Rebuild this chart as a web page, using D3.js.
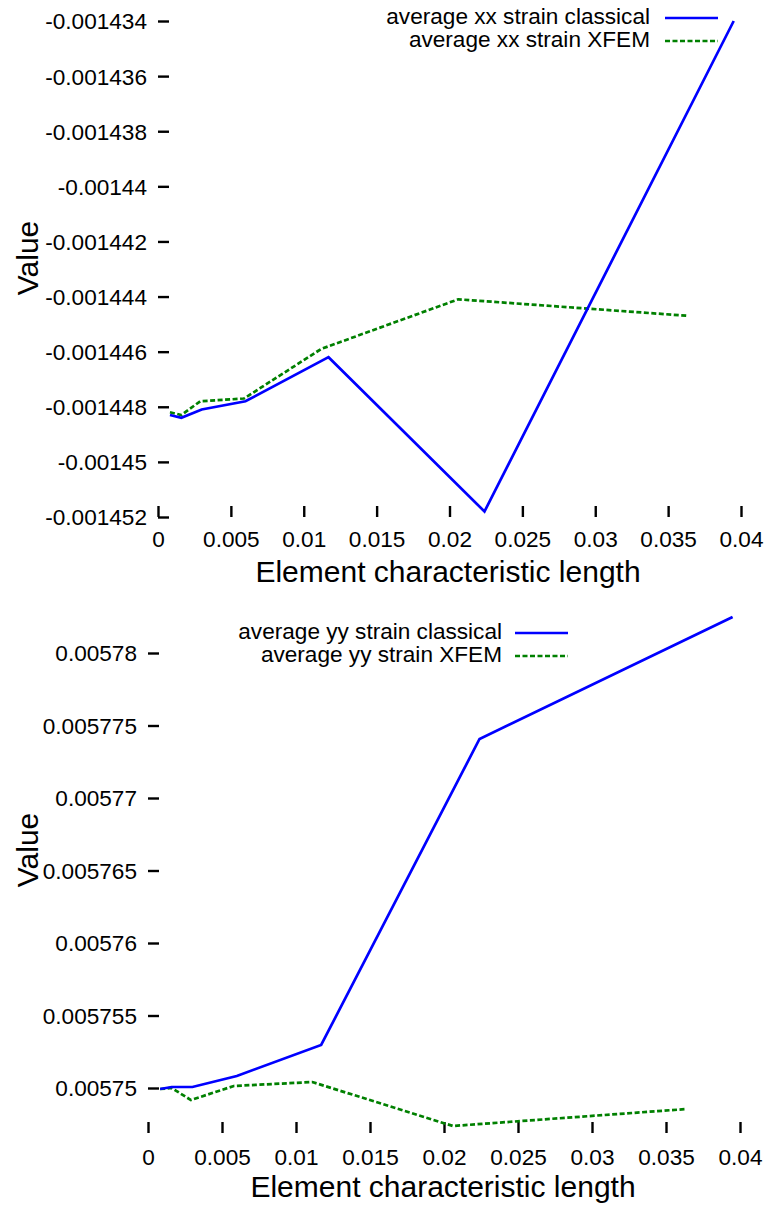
<!DOCTYPE html>
<html>
<head>
<meta charset="utf-8">
<script src="https://cdn.jsdelivr.net/npm/d3@7"></script>
<style>
  html, body { margin: 0; padding: 0; background: #fff; }
  svg { display: block; }
  text { font-family: "Liberation Sans", Arial, sans-serif; fill: #000; }
</style>
</head>
<body>
<svg id="chart" width="768" height="1205"></svg>
<script>
// ---------- DATA ----------
const xTickLabels = ["0", "0.005", "0.01", "0.015", "0.02", "0.025", "0.03", "0.035", "0.04"];

// Top chart: average xx strain
const xxYTickLabels = ["-0.001452", "-0.00145", "-0.001448", "-0.001446", "-0.001444",
                       "-0.001442", "-0.00144", "-0.001438", "-0.001436", "-0.001434"];
const xxClassicalX = [0.00082, 0.0016, 0.003, 0.006, 0.0117, 0.0224, 0.0395];
const xxClassicalY = [-0.0014483, -0.0014484, -0.0014481, -0.0014478, -0.0014462, -0.0014518, -0.0014340];
const xxXfemX = [0.00082, 0.0016, 0.0029, 0.0059, 0.0112, 0.0206, 0.0364];
const xxXfemY = [-0.0014482, -0.0014483, -0.0014478, -0.0014477, -0.0014459, -0.0014441, -0.0014447];

// Bottom chart: average yy strain
const yyYTickLabels = ["0.00575", "0.005755", "0.00576", "0.005765", "0.00577", "0.005775", "0.00578"];
const yyClassicalX = [0.00082, 0.0016, 0.003, 0.006, 0.0117, 0.0224, 0.0395];
const yyClassicalY = [0.00574993, 0.00575007, 0.00575007, 0.00575083, 0.00575297, 0.00577407, 0.00578248];
const yyXfemX = [0.00082, 0.0016, 0.0029, 0.0058, 0.0111, 0.0206, 0.0364];
const yyXfemY = [0.00574993, 0.0057500, 0.00574917, 0.00575014, 0.00575041, 0.00574738, 0.00574855];

const seriesNames = {
  xx: ["average xx strain classical", "average xx strain XFEM"],
  yy: ["average yy strain classical", "average yy strain XFEM"]
};

// ---------- DRAW ----------
const svg = d3.select("#chart");
const BLUE = "#0000ff", GREEN = "#008000";
const FONT = '"Liberation Sans", Arial, sans-serif';
const FS = 22.6;

function drawPanel(cfg) {
  const g = svg.append("g");
  const x = d3.scaleLinear().domain([0, 0.04]).range([cfg.left, cfg.right]);
  const yVals = cfg.yTickLabels.map(Number);
  const y = d3.scaleLinear().domain(cfg.yDomain).range(cfg.yRange);

  // Y axis (ticks inward, no domain line)
  const yAxis = d3.axisLeft(y)
    .tickValues(yVals)
    .tickFormat((d, i) => cfg.yTickLabels[i])
    .tickSize(-11)
    .tickPadding(11);
  const ya = g.append("g").attr("transform", `translate(${cfg.left},0)`).call(yAxis);
  ya.select(".domain").remove();
  ya.selectAll(".tick line").attr("stroke", "#000").attr("stroke-width", 2.4);
  ya.selectAll(".tick text").attr("font-size", FS).attr("font-family", FONT).attr("dy", "0.35em");

  // X axis
  const xVals = xTickLabels.map(Number);
  const xAxis = d3.axisBottom(x)
    .tickValues(xVals)
    .tickFormat((d, i) => xTickLabels[i])
    .tickSize(-11)
    .tickPadding(cfg.xPad);
  const xa = g.append("g").attr("transform", `translate(0,${cfg.bottom})`).call(xAxis);
  xa.select(".domain").remove();
  xa.selectAll(".tick line").attr("stroke", "#000").attr("stroke-width", 2.4);
  xa.selectAll(".tick text").attr("font-size", FS).attr("font-family", FONT);

  // Lines
  const line = d3.line().x(d => x(d[0])).y(d => y(d[1]));
  const cls = cfg.clsX.map((v, i) => [v, cfg.clsY[i]]);
  const xf = cfg.xfX.map((v, i) => [v, cfg.xfY[i]]);
  g.append("path").datum(xf).attr("d", line).attr("fill", "none")
    .attr("stroke", GREEN).attr("stroke-width", 2.7).attr("stroke-dasharray", "5,2.5");
  g.append("path").datum(cls).attr("d", line).attr("fill", "none")
    .attr("stroke", BLUE).attr("stroke-width", 2.7);

  // Axis titles
  g.append("text").attr("x", cfg.xTitleX).attr("y", cfg.xTitleY)
    .attr("text-anchor", "middle").attr("font-size", 30).text("Element characteristic length");
  g.append("text")
    .attr("transform", `translate(${cfg.yTitleX},${cfg.yTitleY}) rotate(-90)`)
    .attr("text-anchor", "middle").attr("font-size", 30).text("Value");

  // Legend
  const lg = g.append("g");
  cfg.names.forEach((name, i) => {
    const ly = cfg.legY[i];
    lg.append("text").attr("x", cfg.legTextX).attr("y", ly + 6)
      .attr("text-anchor", "end").attr("font-size", FS).text(name);
    lg.append("line").attr("x1", cfg.legX1).attr("x2", cfg.legX2)
      .attr("y1", ly).attr("y2", ly)
      .attr("stroke", i === 0 ? BLUE : GREEN).attr("stroke-width", 2.7)
      .attr("stroke-dasharray", i === 0 ? null : "5,2.5");
  });
}

drawPanel({
  left: 158, right: 741, bottom: 517,
  yDomain: [-0.001452, -0.001434], yRange: [517, 21],
  yTickLabels: xxYTickLabels, xPad: 14,
  clsX: xxClassicalX, clsY: xxClassicalY, xfX: xxXfemX, xfY: xxXfemY,
  xTitleX: 448, xTitleY: 582, yTitleX: 38, yTitleY: 258,
  names: seriesNames.xx, legY: [18, 41], legTextX: 650, legX1: 665, legX2: 718
});

drawPanel({
  left: 148, right: 740, bottom: 1133,
  yDomain: [0.00575, 0.00578], yRange: [1088, 653],
  yTickLabels: yyYTickLabels, xPad: 16,
  clsX: yyClassicalX, clsY: yyClassicalY, xfX: yyXfemX, xfY: yyXfemY,
  xTitleX: 443, xTitleY: 1197, yTitleX: 38, yTitleY: 850,
  names: seriesNames.yy, legY: [633, 656], legTextX: 502, legX1: 515, legX2: 568
});
</script>
</body>
</html>
